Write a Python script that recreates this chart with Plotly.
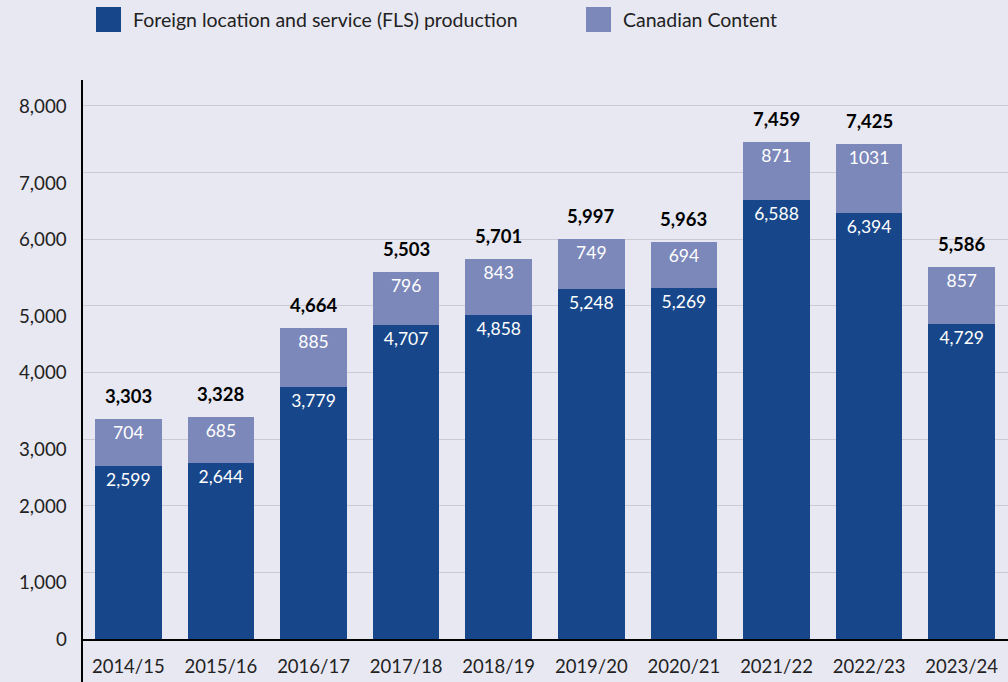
import plotly.graph_objects as go

years = ["2014/15", "2015/16", "2016/17", "2017/18", "2018/19",
         "2019/20", "2020/21", "2021/22", "2022/23", "2023/24"]
fls = [2599, 2644, 3779, 4707, 4858, 5248, 5269, 6588, 6394, 4729]
canadian = [704, 685, 885, 796, 843, 749, 694, 871, 1031, 857]
totals = [3303, 3328, 4664, 5503, 5701, 5997, 5963, 7459, 7425, 5586]
y_ticks = [0, 1000, 2000, 3000, 4000, 5000, 6000, 7000, 8000]

BG = "#E8E8F2"
DARK = "#17478A"
LIGHT = "#7C88BA"
FONT = "Lato"

fig = go.Figure()
fig.add_trace(go.Bar(
    x=years, y=fls, name="Foreign location and service (FLS) production",
    marker=dict(color=DARK, line=dict(width=0)),
    text=[f"{v:,}" for v in fls], textposition="inside", insidetextanchor="end",
    textfont=dict(color="white", size=17.5, family=FONT),
))
fig.add_trace(go.Bar(
    x=years, y=canadian, name="Canadian Content",
    marker=dict(color=LIGHT, line=dict(width=0)),
    text=[str(v) for v in canadian], textposition="inside", insidetextanchor="end",
    textfont=dict(color="white", size=17.5, family=FONT),
))

for yr, t in zip(years, totals):
    fig.add_annotation(x=yr, y=t, text=f"<b>{t:,}</b>", showarrow=False,
                       yanchor="bottom", yshift=10,
                       font=dict(size=18.5, color="black", family=FONT))

# y tick labels (as annotations to mimic the reference offsets)
for v in y_ticks:
    shift = -10 if v in (1000, 3000, 5000, 7000) else 0
    fig.add_annotation(x=0, xref="paper", y=v, text=f"{v:,}", showarrow=False,
                       xanchor="right", xshift=-13, yshift=shift,
                       font=dict(size=18.7, color="#222222", family=FONT))

# custom legend
leg = [(96, DARK, "Foreign location and service (FLS) production"),
       (586, LIGHT, "Canadian Content")]
W, H = 1008, 682
ml, mr, mt, mb = 82, 0, 80, 43
pw, ph = W - ml - mr, H - mt - mb
def px_to_paper_x(px):
    return (px - ml) / pw
def px_to_paper_y(py):
    return (H - mb - py) / ph
for x0, col, label in leg:
    fig.add_shape(type="rect", xref="paper", yref="paper",
                  x0=px_to_paper_x(x0), x1=px_to_paper_x(x0 + 25),
                  y0=px_to_paper_y(32), y1=px_to_paper_y(7),
                  fillcolor=col, line=dict(width=0))
    fig.add_annotation(xref="paper", yref="paper", x=px_to_paper_x(x0 + 35),
                       y=px_to_paper_y(19.5), text=label, showarrow=False,
                       xanchor="left", yanchor="middle",
                       font=dict(size=19.5, color="#222222", family=FONT))

# y axis line extending through x labels
fig.add_shape(type="line", xref="paper", yref="paper", x0=0, x1=0,
              y0=px_to_paper_y(H), y1=1, line=dict(color="black", width=2))

fig.update_layout(
    width=W, height=H, barmode="stack", bargap=0.28,
    paper_bgcolor=BG, plot_bgcolor=BG, showlegend=False,
    margin=dict(l=ml, r=mr, t=mt, b=mb),
    font=dict(family=FONT, color="#222222"),
    xaxis=dict(showgrid=False, showline=True, linecolor="black", linewidth=2,
               ticks="", tickfont=dict(size=18.5, family=FONT, color="#222222"),
               ticklabelstandoff=10),
    yaxis=dict(range=[0, 8390], tickvals=y_ticks, showticklabels=False,
               showgrid=True, gridcolor="#CACAD4", gridwidth=1,
               zeroline=False, showline=False),
)

fig.write_html("out.html", config={"displayModeBar": False},
               post_script="document.body.style.margin='0';document.body.style.padding='0';document.body.style.overflow='hidden';")
